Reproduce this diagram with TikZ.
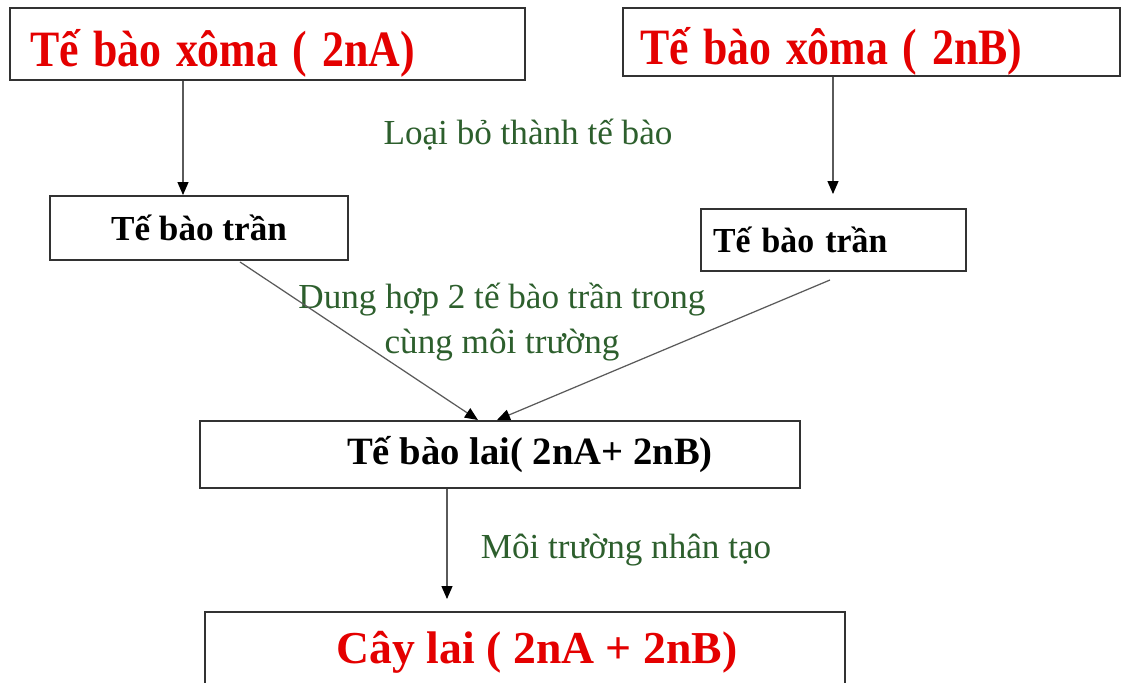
\documentclass[tikz,border=0pt]{standalone}
\usepackage{graphicx}
\usepackage{fontspec}
\setmainfont{Liberation Serif}
\usetikzlibrary{arrows.meta}
\definecolor{boxred}{RGB}{228,0,0}
\definecolor{labgreen}{RGB}{45,95,45}
\definecolor{frame}{RGB}{50,50,50}
\definecolor{conn}{RGB}{90,90,90}
\newcommand{\sqz}[1]{\raisebox{-0.18cm}[\height][\depth]{\scalebox{0.86}[1]{#1}}}
\tikzset{
  box/.style={draw=frame, line width=1.1pt, fill=white, inner ysep=0pt},
  bigtxt/.style={font=\fontsize{29}{33}\selectfont\bfseries, text=boxred},
  redtxt/.style={font=\fontsize{26}{30}\selectfont\bfseries, text=boxred},
  midtxt/.style={font=\fontsize{20}{24}\selectfont\bfseries, text=black},
  hybtxt/.style={font=\fontsize{22}{26}\selectfont\bfseries, text=black},
  lab/.style={font=\fontsize{20}{25.6}\selectfont, text=labgreen, align=center, inner sep=0pt},
  arr/.style={draw=conn, line width=0.7pt, -{Triangle[length=2.6mm,width=2.2mm,color=black,fill=black]}}
}
\begin{document}
\begin{tikzpicture}
\useasboundingbox (0,0) rectangle (22.62,-13.66);
\clip (0,0) rectangle (22.62,-13.66);
\fill[white] (0,0) rectangle (22.62,-13.66);
% boxes
\node[box, bigtxt, minimum width=10.3cm, minimum height=1.44cm, text width=9.5cm, inner xsep=0.4cm, align=left] (b1) at (5.35,-0.88) {\sqz{Tế bào xôma ( 2nA)}};
\node[box, bigtxt, minimum width=9.94cm, minimum height=1.36cm, text width=9.26cm, inner xsep=0.34cm, align=left] (b2) at (17.43,-0.84) {\sqz{Tế bào xôma ( 2nB)}};
\node[box, midtxt, minimum width=5.96cm, minimum height=1.28cm] (b3) at (3.98,-4.56) {Tế bào trần};
\node[box, midtxt, minimum width=5.3cm, minimum height=1.24cm, text width=4.82cm, inner xsep=0.24cm, align=left] (b4) at (16.67,-4.8) {\scalebox{0.96}[1]{Tế bào trần}};
\node[box, hybtxt, minimum width=12cm, minimum height=1.34cm] (b5) at (10.0,-9.09) {\hspace*{1.2cm}Tế bào lai( 2nA+ 2nB)};
\node[box, redtxt, minimum width=12.8cm, minimum height=1.6cm] (b6) at (10.5,-13.04) {\hspace*{0.48cm}Cây lai ( 2nA + 2nB)};
% labels
\node[lab] (l1) at (10.56,-2.7) {Loại bỏ thành tế bào};
\node[lab] (l2) at (10.04,-6.44) {Dung hợp 2 tế bào trần trong\\cùng môi trường};
\node[lab] (l3) at (12.52,-11.0) {Môi trường nhân tạo};
% helper coordinates
\coordinate (x1) at (3.66,0);
\coordinate (x2) at (16.66,0);
\coordinate (s3) at (4.8,-5.24);
\coordinate (e3) at (9.56,0);
\coordinate (s4) at (16.6,-5.6);
\coordinate (e4) at (9.94,0);
\coordinate (x5) at (8.94,0);
% connectors
\draw[arr] (b1.south -| x1) -- (b3.north -| x1);
\draw[arr, shorten >=0.28cm] (b2.south -| x2) -- (b4.north -| x2);
\draw[arr] (s3) -- (b5.north -| e3);
\draw[arr] (s4) -- (b5.north -| e4);
\draw[arr, shorten >=0.24cm] (b5.south -| x5) -- (b6.north -| x5);
\end{tikzpicture}
\end{document}
